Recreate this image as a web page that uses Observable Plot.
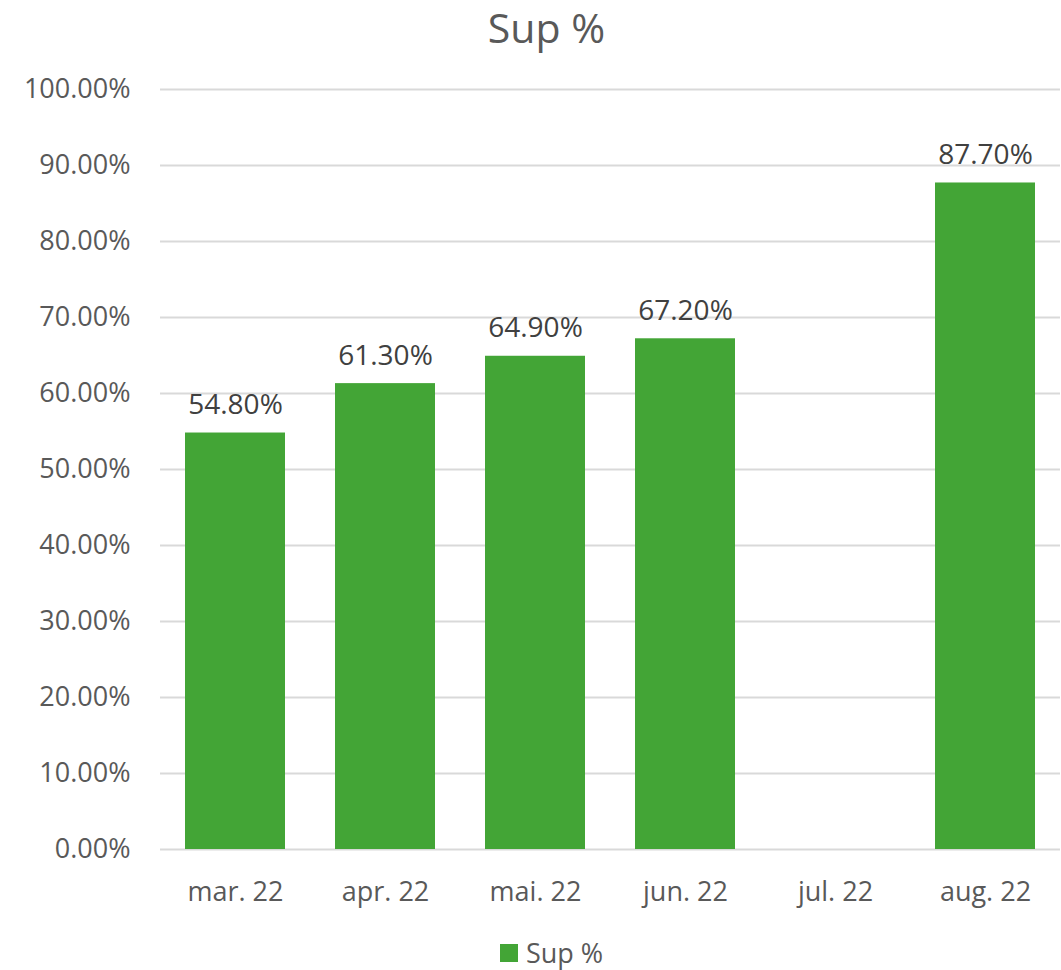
<!DOCTYPE html>
<html><head><meta charset="utf-8">
<script src="https://cdn.jsdelivr.net/npm/d3@7"></script>
<script src="https://cdn.jsdelivr.net/npm/@observablehq/plot@0.6"></script>
<style>
body{margin:0;background:#fff;font-family:"Open Sans",sans-serif;color:#595959;}
#title{height:60px;text-align:center;font-size:41px;line-height:54px;padding-left:32px;font-family:"Liberation Sans Narrow","Open Sans",sans-serif;box-sizing:border-box;}
#legend{display:flex;justify-content:center;align-items:center;font-size:27px;margin-top:24px;padding-left:42px;}
#legend span.sw{display:inline-block;width:18px;height:18px;background:#43A536;margin-right:8px;}
</style></head>
<body>
<div id="title">Sup %</div>
<div id="chart"></div>
<div id="legend"><span class="sw"></span><span>Sup %</span></div>
<script>
const months = ["mar. 22","apr. 22","mai. 22","jun. 22","jul. 22","aug. 22"];
const supValues = [0.548, 0.613, 0.649, 0.672, null, 0.877];
const yTicks = [0,0.1,0.2,0.3,0.4,0.5,0.6,0.7,0.8,0.9,1.0];
const data = months.map((m,i)=>({month:m, value:supValues[i]}));
const bars = data.filter(d=>d.value!=null);
const fmt = d3.format(".2%");
const chart = Plot.plot({
  width:1061, height:850,
  marginTop:29, marginBottom:61, marginLeft:160, marginRight:1,
  style:{fontSize:"27px", fontFamily:"Open Sans, sans-serif", color:"#595959", background:"#fff"},
  x:{domain:months, paddingInner:1/3, paddingOuter:1/6, label:null},
  y:{domain:[0,1], label:null},
  marks:[
    Plot.ruleY(yTicks,{stroke:"#d9d9d9", strokeWidth:2}),
    Plot.barY(bars,{x:"month", y:"value", fill:"#43A536"}),
    Plot.text(bars,{x:"month", y:"value", text:d=>fmt(d.value), dy:-28, fontSize:28, fill:"#404040"}),
    Plot.axisY(yTicks,{tickSize:0, tickPadding:30, tickFormat:fmt, fontSize:27, fill:"#595959"}),
    Plot.axisX({tickSize:0, tickPadding:32, fontSize:27, fill:"#595959"})
  ]
});
document.getElementById("chart").appendChild(chart);
</script>
</body></html>
